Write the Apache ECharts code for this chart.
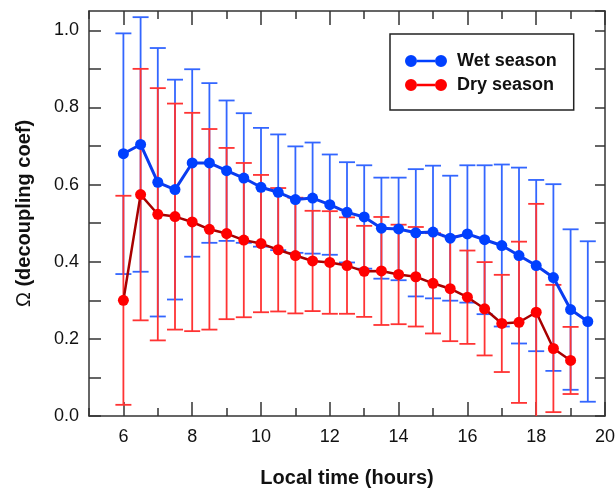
<!DOCTYPE html>
<html>
<head>
<meta charset="utf-8">
<script src="https://cdn.jsdelivr.net/npm/echarts@6/dist/echarts.min.js"></script>
<style>
  html, body { margin: 0; padding: 0; background: #fff; }
  #chart { width: 615px; height: 489px; }
</style>
</head>
<body>
<div id="chart"></div>
<script>
// local hour of each half-hourly bin
var wetHours = [6, 6.5, 7, 7.5, 8, 8.5, 9, 9.5, 10, 10.5, 11, 11.5, 12, 12.5, 13, 13.5, 14, 14.5, 15, 15.5, 16, 16.5, 17, 17.5, 18, 18.5, 19, 19.5];
var wetMean = [0.680, 0.704, 0.606, 0.587, 0.656, 0.656, 0.636, 0.617, 0.593, 0.580, 0.561, 0.565, 0.548, 0.528, 0.516, 0.487, 0.485, 0.475, 0.477, 0.461, 0.472, 0.457, 0.442, 0.416, 0.390, 0.359, 0.276, 0.245];
var wetErr = [0.312, 0.330, 0.348, 0.285, 0.243, 0.207, 0.182, 0.168, 0.154, 0.150, 0.138, 0.144, 0.130, 0.130, 0.134, 0.131, 0.133, 0.165, 0.172, 0.162, 0.178, 0.193, 0.210, 0.228, 0.222, 0.242, 0.208, 0.208];

var dryHours = [6, 6.5, 7, 7.5, 8, 8.5, 9, 9.5, 10, 10.5, 11, 11.5, 12, 12.5, 13, 13.5, 14, 14.5, 15, 15.5, 16, 16.5, 17, 17.5, 18, 18.5, 19];
var dryMean = [0.300, 0.574, 0.523, 0.517, 0.503, 0.484, 0.473, 0.456, 0.447, 0.431, 0.416, 0.402, 0.398, 0.390, 0.375, 0.376, 0.367, 0.361, 0.344, 0.330, 0.308, 0.278, 0.240, 0.243, 0.269, 0.175, 0.144];
var dryErr = [0.271, 0.326, 0.327, 0.293, 0.283, 0.260, 0.222, 0.200, 0.178, 0.160, 0.150, 0.130, 0.133, 0.125, 0.118, 0.140, 0.129, 0.129, 0.130, 0.136, 0.121, 0.121, 0.126, 0.209, 0.281, 0.165, 0.087];

var majorHours = [6, 8, 10, 12, 14, 16, 18, 20];

var FONT = "'Liberation Sans', Arial, sans-serif";
var AXIS_COLOR = "#333";

function pairs(xs, ys) {
  return xs.map(function (x, i) { return [x, ys[i]]; });
}
function errRows(xs, ys, es) {
  return xs.map(function (x, i) { return [x, ys[i] - es[i], ys[i] + es[i]]; });
}

// vertical bar with caps
function errorBar(color) {
  return function (params, api) {
    var x = api.value(0);
    var top = api.coord([x, api.value(2)]);
    var bot = api.coord([x, api.value(1)]);
    var w = 8;
    var style = { stroke: color, lineWidth: 1.8 };
    return {
      type: "group",
      children: [
        { type: "line", shape: { x1: top[0], y1: top[1], x2: bot[0], y2: bot[1] }, style: style },
        { type: "line", shape: { x1: top[0] - w, y1: top[1], x2: top[0] + w, y2: top[1] }, style: style },
        { type: "line", shape: { x1: bot[0] - w, y1: bot[1], x2: bot[0] + w, y2: bot[1] }, style: style }
      ]
    };
  };
}

function xAxisPart(position, major) {
  var ax = {
    type: "value",
    min: 5,
    max: 20,
    interval: 1,
    position: position,
    axisLine: { show: true, onZero: false, lineStyle: { color: AXIS_COLOR, width: 1.5 } },
    axisTick: { show: true, inside: true, length: major ? 14 : 8, lineStyle: { color: AXIS_COLOR, width: 1.5 } },
    axisLabel: { show: false },
    splitLine: { show: false }
  };
  if (major) {
    ax.axisTick.customValues = majorHours;
    ax.axisLine.show = false;
  }
  return ax;
}

var icon = "path://M6,0A6,6,0,1,1,6,12A6,6,0,1,1,6,0ZM36,0A6,6,0,1,1,36,12A6,6,0,1,1,36,0ZM12,4.8H30V7.2H12Z";

var chart = echarts.init(document.getElementById("chart"));

var bottomAxis = xAxisPart("bottom", false);
bottomAxis.axisLabel = {
  show: true,
  margin: 12,
  fontSize: 18,
  fontFamily: FONT,
  color: "#111",
  formatter: function (v) { return v % 2 === 0 ? String(v) : ""; }
};
bottomAxis.name = "Local time (hours)";
bottomAxis.nameLocation = "middle";
bottomAxis.nameGap = 52;
bottomAxis.nameTextStyle = { fontSize: 20, fontWeight: "bold", fontFamily: FONT, color: "#111" };

chart.setOption({
  animation: false,
  backgroundColor: "#fff",
  grid: { left: 89, right: 10, top: 11, bottom: 73, outerBoundsMode: "none", containLabel: false },
  legend: {
    orient: "vertical",
    left: 390,
    top: 34,
    padding: [17, 17, 15, 15],
    itemGap: 4,
    itemWidth: 42,
    itemHeight: 12,
    borderColor: "#222",
    borderWidth: 1.5,
    backgroundColor: "#fff",
    textStyle: { fontSize: 18, fontWeight: "bold", fontFamily: FONT, color: "#111", lineHeight: 20, padding: [0, 0, 0, 5] },
    data: [
      { name: "Wet season", icon: icon, itemStyle: { color: "#0040ff", borderWidth: 0 } },
      { name: "Dry season", icon: icon, itemStyle: { color: "#ff0000", borderWidth: 0 } }
    ]
  },
  xAxis: [
    bottomAxis,
    xAxisPart("bottom", true),
    xAxisPart("top", false),
    xAxisPart("top", true)
  ],
  yAxis: [
    {
      type: "value",
      min: 0,
      max: 1.05,
      interval: 0.1,
      position: "left",
      name: "{o|Ω} (decoupling coef)",
      nameLocation: "middle",
      nameGap: 55,
      nameTextStyle: {
        fontSize: 20, fontWeight: "bold", fontFamily: FONT, color: "#111",
        rich: { o: { fontSize: 20, fontWeight: "normal", fontFamily: FONT, color: "#111" } }
      },
      axisLine: { show: true, onZero: false, lineStyle: { color: AXIS_COLOR, width: 1.5 } },
      axisTick: { show: true, inside: true, length: 12, lineStyle: { color: AXIS_COLOR, width: 1.5 } },
      axisLabel: {
        margin: 10,
        fontSize: 18,
        fontFamily: FONT,
        color: "#111",
        showMaxLabel: false,
        formatter: function (v) { return Math.round(v * 10) % 2 === 0 ? v.toFixed(1) : ""; }
      },
      splitLine: { show: false }
    },
    {
      type: "value",
      min: 0,
      max: 1.05,
      interval: 0.1,
      position: "right",
      axisLine: { show: true, onZero: false, lineStyle: { color: AXIS_COLOR, width: 1.5 } },
      axisTick: { show: true, inside: true, length: 10, lineStyle: { color: AXIS_COLOR, width: 1.5 } },
      axisLabel: { show: false },
      splitLine: { show: false }
    }
  ],
  series: [
    {
      type: "custom",
      name: "wet sd",
      clip: true,
      renderItem: errorBar("#3366ff"),
      encode: { x: 0, y: [1, 2] },
      data: errRows(wetHours, wetMean, wetErr)
    },
    {
      type: "custom",
      name: "dry sd",
      clip: true,
      renderItem: errorBar("#ff3333"),
      encode: { x: 0, y: [1, 2] },
      data: errRows(dryHours, dryMean, dryErr)
    },
    {
      type: "line",
      name: "Wet season",
      data: pairs(wetHours, wetMean),
      symbol: "circle",
      symbolSize: 11,
      itemStyle: { color: "#0040ff" },
      lineStyle: { color: "#0a3cf0", width: 3 }
    },
    {
      type: "line",
      name: "Dry season",
      data: pairs(dryHours, dryMean),
      symbol: "circle",
      symbolSize: 11,
      itemStyle: { color: "#ff0000" },
      lineStyle: { color: "#a80000", width: 2.5 }
    }
  ]
});
</script>
</body>
</html>
